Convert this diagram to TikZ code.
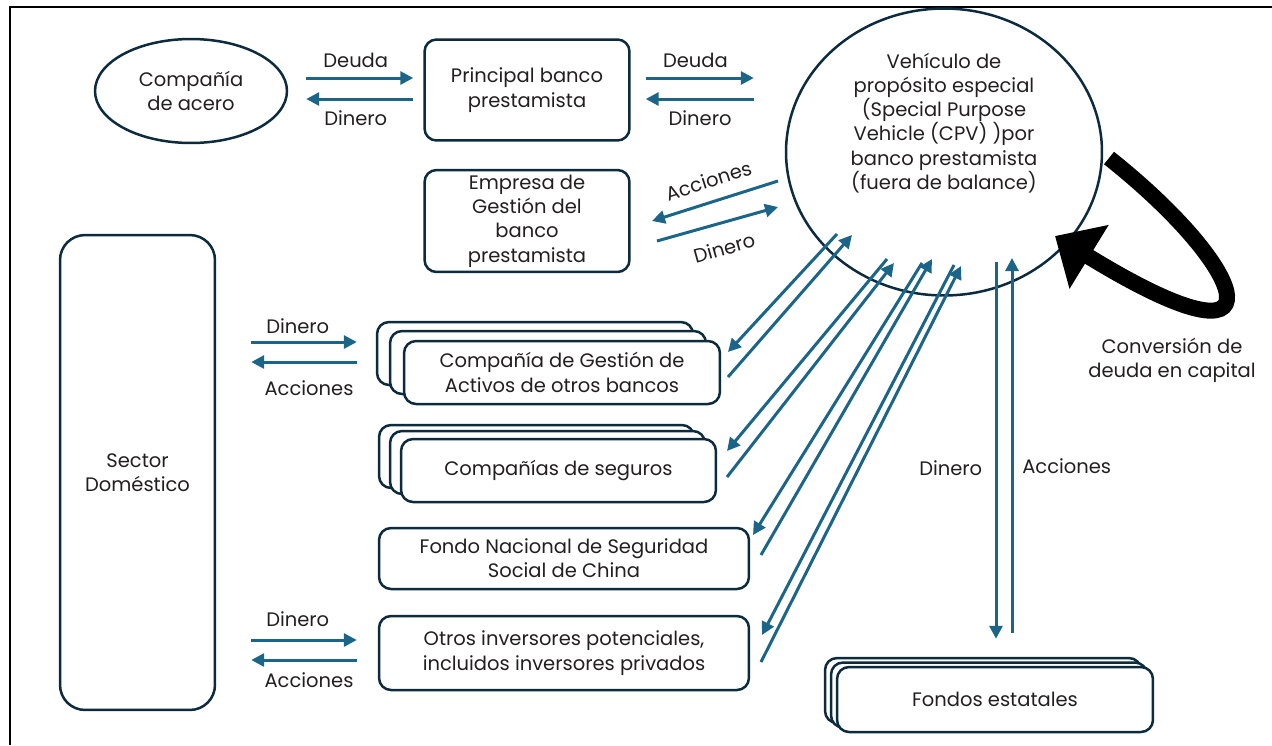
\documentclass[tikz,border=0pt]{standalone}
\usepackage{fontspec}
\setmainfont{Poppins}
\usetikzlibrary{arrows.meta,shadows,shapes.geometric}
\definecolor{navy}{RGB}{13,43,62}
\definecolor{flowblue}{RGB}{26,101,136}
\definecolor{ink}{RGB}{35,31,32}
\tikzset{
  box/.style={draw=navy, line width=0.05cm, rounded corners=0.24cm, fill=white,
    align=center, text=ink, inner sep=2pt},
  pile/.style n args={4}{box,
    copy shadow={shadow xshift=#1, shadow yshift=#2, fill=white, draw=navy, opacity=1},
    copy shadow={shadow xshift=#3, shadow yshift=#4, fill=white, draw=navy, opacity=1}},
  oval/.style={ellipse, draw=navy, line width=0.05cm, align=center, text=ink, inner sep=0pt},
  flow/.style={draw=flowblue, line width=0.06cm, -{Triangle[length=0.26cm, width=0.26cm]}},
  lbl/.style={text=ink, inner sep=2pt},
  turnflow/.style={draw=black, line width=0.32cm, -{Triangle[length=0.8cm, width=1.45cm]}}
}
\begin{document}
\begin{tikzpicture}[x=0.02cm, y=-0.02cm, font=\fontsize{11.1pt}{13.8pt}\selectfont]
  \useasboundingbox (0,0) rectangle (1272,745);
  \draw[line width=0.04cm] (10,745) -- (10,7) -- (1272,7);

  % main actors
  \node[oval, minimum width=3.84cm, minimum height=2.08cm] (acero) at (191,91) {Compañía\\de acero};
  \node[box, minimum width=4.1cm, minimum height=2.02cm] (banco) at (527,90) {Principal banco\\prestamista};
  \node[box, minimum width=4.1cm, minimum height=2.04cm] (empresa) at (527,221) {Empresa de\\Gestión del\\banco\\prestamista};
  \node[oval, minimum width=6.32cm, minimum height=5.74cm] (spv) at (944,152) {};
  \node[lbl, align=center] (spvtxt) at (944,123) {Vehículo de\\propósito especial\\(Special Purpose\\Vehicle (CPV) )por\\banco prestamista\\(fuera de balance)};
  \node[box, rounded corners=0.5cm, minimum width=3.1cm, minimum height=9.5cm] (sector) at (137.5,472.5) {Sector\\Doméstico};

  % investors
  \node[pile={-0.54cm}{0.38cm}{-0.28cm}{0.2cm}, minimum width=6.32cm, minimum height=1.26cm] (gestoras) at (562,372.5) {Compañía de Gestión de\\Activos de otros bancos};
  \node[pile={-0.44cm}{0.28cm}{-0.22cm}{0.16cm}, minimum width=6.3cm, minimum height=1.26cm] (seguros) at (558.5,470.5) {Compañías de seguros};
  \node[box, minimum width=7.4cm, minimum height=1.22cm] (fondo) at (564,558.5) {Fondo Nacional de Seguridad\\Social de China};
  \node[box, minimum width=7.4cm, minimum height=1.48cm] (otros) at (564,653) {Otros inversores potenciales,\\incluidos inversores privados};
  \node[pile={-0.24cm}{0.18cm}{-0.12cm}{0.09cm}, minimum width=6.32cm, minimum height=1.3cm] (estatales) at (995,699.5) {Fondos estatales};
  \node[lbl, align=center] (conv) at (1172,360) {Conversión de\\deuda en capital};

  % debt for money
  \draw[flow, shorten <=0.36cm, shorten >=0.2cm] ([yshift=0.26cm]acero.east) -- ([yshift=0.26cm]acero.east -| banco.west)
    node[lbl, midway, above=3pt] (deuda1) {Deuda};
  \draw[flow, shorten <=0.2cm, shorten >=0.36cm] ([yshift=-0.16cm]acero.east -| banco.west) -- ([yshift=-0.16cm]acero.east)
    node[lbl, midway, below=4pt] (dinero1) {Dinero};
  \draw[flow, shorten <=0.3cm, shorten >=0.62cm] ([yshift=0.24cm]banco.east) -- ([yshift=0.24cm]banco.east -| spv.west)
    node[lbl, pos=0.42, above=3pt] (deuda2) {Deuda};
  \draw[flow, shorten <=0.62cm, shorten >=0.3cm] ([yshift=-0.18cm]banco.east -| spv.west) -- ([yshift=-0.18cm]banco.east)
    node[lbl, pos=0.55, below=4pt] (dinero2) {Dinero};

  % shares with the management company
  \coordinate (accA) at (778,181); \coordinate (accB) at (652,221);
  \coordinate (dinA) at (657,241); \coordinate (dinB) at (778,207);
  \draw[flow] (accA) -- (accB) node[lbl, midway, sloped, above=5pt] (acciones1) {Acciones};
  \draw[flow] (dinA) -- (dinB) node[lbl, midway, sloped, below=7pt] (dinero3) {Dinero};

  % fan between the CPV and the investors
  \foreach \k/\p/\q in {1/{837,234}/{728,352}, 2/{887,259}/{727,451}, 3/{922,263}/{753,535}, 4/{954,265}/{762,635}}
    {\coordinate (vin\k) at (\p); \coordinate (inv\k) at (\q);}
  \foreach \k/\p/\q in {1/{728,377}/{852,235}, 2/{727,477}/{894,263}, 3/{761,555}/{932,259}, 4/{761,662}/{961,266}}
    {\coordinate (ret\k) at (\p); \coordinate (vout\k) at (\q);}
  \foreach \k in {1,...,4} {
    \draw[flow] (vin\k) -- (inv\k);
    \draw[flow] (ret\k) -- (vout\k);
  }

  % state funds
  \coordinate (dinTop) at (996,262);
  \coordinate (accTop) at (1012,258);
  \draw[flow, shorten >=0.54cm] (dinTop) -- (dinTop |- estatales.north)
    node[lbl, pos=0.51, left=5pt] (dinero4) {Dinero};
  \draw[flow, shorten <=0.66cm] (accTop |- estatales.north) -- (accTop)
    node[lbl, pos=0.49, right=3pt] (acciones2) {Acciones};

  % household sector
  \draw[flow, shorten <=0.7cm] ([yshift=0.61cm]gestoras.west -| sector.east) -- ([xshift=-0.92cm, yshift=0.61cm]gestoras.west)
    node[lbl, pos=0.58, above=2pt] (dinero5) {Dinero};
  \draw[flow, shorten >=0.7cm] ([xshift=-0.92cm, yshift=0.21cm]gestoras.west) -- ([yshift=0.21cm]gestoras.west -| sector.east)
    node[lbl, pos=0.34, below=8pt] (acciones3) {Acciones};
  \draw[flow, shorten <=0.7cm] ([yshift=0.26cm]otros.west -| sector.east) -- ([xshift=-0.42cm, yshift=0.26cm]otros.west)
    node[lbl, pos=0.58, above=5pt] (dinero6) {Dinero};
  \draw[flow, shorten >=0.7cm] ([xshift=-0.42cm, yshift=-0.14cm]otros.west) -- ([yshift=-0.14cm]otros.west -| sector.east)
    node[lbl, pos=0.34, below=4.5pt] (acciones4) {Acciones};

  % debt to equity swap
  \coordinate (loopA) at (1109,158);
  \coordinate (loopB) at (1055,236);
  \draw[turnflow] (loopA) .. controls (1250,270) and (1290,380) .. (loopB);
\end{tikzpicture}
\end{document}
